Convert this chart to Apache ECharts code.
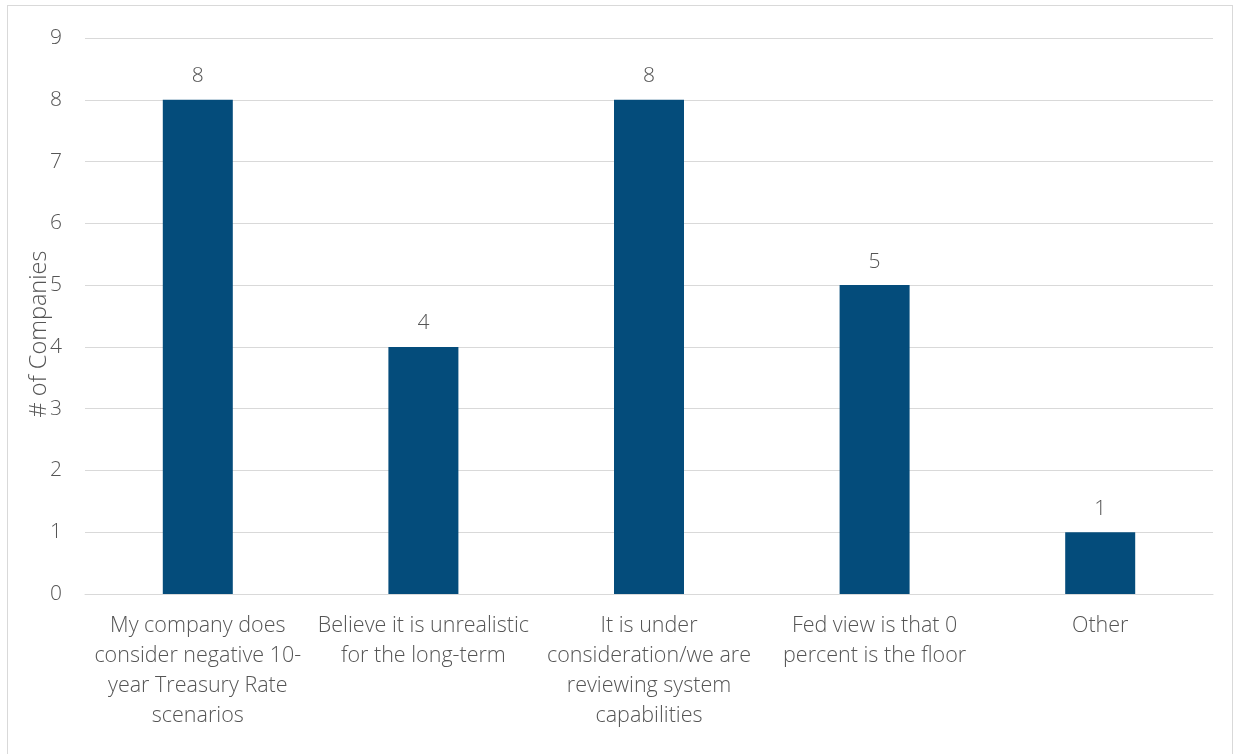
<!DOCTYPE html>
<html>
<head>
<meta charset="utf-8">
<script src="https://cdn.jsdelivr.net/npm/echarts@6/dist/echarts.min.js"></script>
<style>
  html, body { margin: 0; padding: 0; background: #fff; }
  #frame { position: absolute; left: 7px; top: 5px; width: 1226px; height: 760px; border: 1px solid #d9d9d9; box-sizing: border-box; }
  #chart { position: absolute; left: 0; top: 0; width: 1236px; height: 754px; }
</style>
</head>
<body>
<div id="frame"></div>
<div id="chart"></div>
<script>
// Survey responses: companies by view on negative 10-year Treasury rate scenarios
const categories = [
  'My company does\nconsider negative 10-\nyear Treasury Rate\nscenarios',
  'Believe it is unrealistic\nfor the long-term',
  'It is under\nconsideration/we are\nreviewing system\ncapabilities',
  'Fed view is that 0\npercent is the floor',
  'Other'
];
const companyCounts = [8, 4, 8, 5, 1];
const yAxisTitle = '# of Companies';
const yMin = 0, yMax = 9, yStep = 1;

const textColor = '#555555';
const fontFamily = '"Open Sans", "Noto Sans", sans-serif';

const chart = echarts.init(document.getElementById('chart'), null, { renderer: 'canvas' });
chart.setOption({
  animation: false,
  backgroundColor: 'transparent',
  grid: { left: 85, right: 23, top: 38, bottom: 160 },
  xAxis: {
    type: 'category',
    data: categories,
    axisTick: { show: false },
    axisLine: { lineStyle: { color: '#d9d9d9', width: 1 } },
    axisLabel: {
      color: textColor, fontFamily, fontSize: 21.5, fontWeight: 300,
      lineHeight: 30, margin: 17, interval: 0, align: 'center'
    }
  },
  yAxis: {
    type: 'value',
    min: yMin, max: yMax, interval: yStep,
    name: yAxisTitle,
    nameLocation: 'middle',
    nameGap: 34,
    nameMoveOverlap: false,
    nameRotate: 90,
    nameTextStyle: { color: textColor, fontFamily, fontSize: 23.5, fontWeight: 300, padding: [0, 36, 0, 0] },
    axisLine: { show: false },
    axisTick: { show: false },
    axisLabel: { color: textColor, fontFamily, fontSize: 21, fontWeight: 300, margin: 23 },
    splitLine: { lineStyle: { color: '#d9d9d9', width: 1 } }
  },
  series: [{
    type: 'bar',
    data: companyCounts,
    barWidth: 70,
    itemStyle: { color: '#044c7b' },
    label: {
      show: true, position: 'top', distance: 13,
      color: textColor, fontFamily, fontSize: 21, fontWeight: 300
    }
  }]
});
</script>
</body>
</html>
